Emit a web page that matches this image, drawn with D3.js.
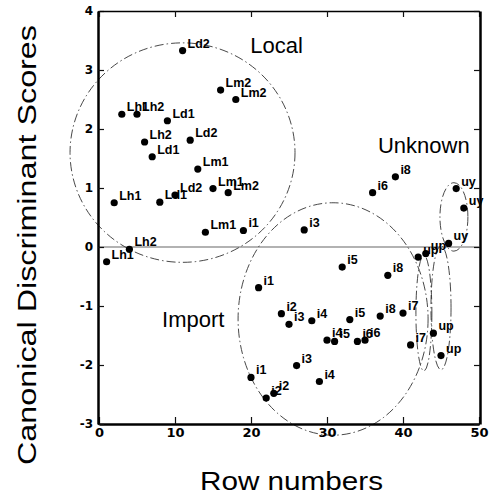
<!DOCTYPE html>
<html>
<head>
<meta charset="utf-8">
<script src="https://cdn.jsdelivr.net/npm/d3@7"></script>
<style>
  html, body { margin: 0; padding: 0; background: #fff; }
  svg { display: block; }
</style>
</head>
<body>
<svg id="chart" width="492" height="498"></svg>
<script>
// ---- data ----
const rowNumbers = [1,2,3,4,5,6,7,8,9,10,11,12,13,14,15,16,17,18,19,20,21,22,23,24,
  25,26,27,28,29,30,31,32,33,34,35,36,37,38,39,40,41,42,43,44,45,46,47,48];
const pointLabels = ["Lh1","Lh1","Lh1","Lh2","Lh2","Lh2","Ld1","Ld1","Ld1","Ld2","Ld2","Ld2",
  "Lm1","Lm1","Lm1","Lm2","Lm2","Lm2","i1","i1","i1","i2","i2","i2","i3","i3","i3",
  "i4","i4","i4","i5","i5","i5","i6","i6","i6","i8","i8","i8","i7","i7",
  "up","up","up","up","uy","uy","uy"];
const scores = [-0.25, 0.75, 2.25, -0.04, 2.25, 1.78, 1.53, 0.76, 2.14, 0.88, 3.33, 1.81,
  1.32, 0.25, 0.99, 2.66, 0.92, 2.50, 0.28, -2.21, -0.69, -2.56, -2.48, -1.13, -1.31, -2.01, 0.29,
  -1.25, -2.28, -1.58, -1.60, -0.34, -1.23, -1.60, -1.58, 0.92, -1.17, -0.48, 1.19, -1.12, -1.66,
  -0.17, -0.11, -1.46, -1.84, 0.06, 0.99, 0.66];

const xTicks = [0, 10, 20, 30, 40, 50];
const yTicks = [-3, -2, -1, 0, 1, 2, 3, 4];

// group ellipses (data units)
const groupNames = ["Local", "Import", "Unknown-uy", "Unknown-up1", "Unknown-up2"];
const ellipseCx = [10.99, 30.8, 46.7, 42.75, 45.0];
const ellipseCy = [1.60, -1.22, 0.51, -1.12, -1.03];
const ellipseRx = [14.8, 12.5, 1.84, 1.05, 1.32];
const ellipseRy = [1.86, 1.97, 0.58, 0.98, 1.05];

const regionNames = ["Local", "Unknown", "Import"];
const regionX = [19.9, 36.7, 8.3];
const regionY = [3.29, 1.59, -1.36];

// ---- drawing ----
const svg = d3.select("#chart");
const x = d3.scaleLinear().domain([0, 50]).range([99, 479]);
const y = d3.scaleLinear().domain([-3, 4]).range([424, 11]);

// zero line
svg.append("line")
  .attr("x1", x(0)).attr("x2", x(50))
  .attr("y1", y(0)).attr("y2", y(0))
  .attr("stroke", "#666").attr("stroke-width", 1.2);

// ellipses
svg.append("g").selectAll("ellipse")
  .data(groupNames)
  .join("ellipse")
  .attr("cx", (d, i) => x(ellipseCx[i]))
  .attr("cy", (d, i) => y(ellipseCy[i]))
  .attr("rx", (d, i) => x(ellipseCx[i] + ellipseRx[i]) - x(ellipseCx[i]))
  .attr("ry", (d, i) => y(ellipseCy[i] - ellipseRy[i]) - y(ellipseCy[i]))
  .attr("fill", "none")
  .attr("stroke", "#333")
  .attr("stroke-width", 0.9)
  .attr("stroke-dasharray", "9,3,1.5,3");

// axes
const fontTick = "'DejaVu Sans', sans-serif";
const gx = svg.append("g").attr("transform", `translate(0,${y(-3)})`)
  .call(d3.axisBottom(x).tickValues(xTicks).tickSizeInner(-7).tickSizeOuter(0).tickPadding(4));
const gy = svg.append("g").attr("transform", `translate(${x(0) - 1},0)`)
  .call(d3.axisLeft(y).tickValues(yTicks).tickSizeInner(-6).tickSizeOuter(0).tickPadding(5).tickFormat(d3.format("d")));
const gt = svg.append("g").attr("transform", `translate(0,${y(4)})`)
  .call(d3.axisTop(x).tickValues(xTicks).tickSizeInner(-6).tickSizeOuter(0).tickFormat(""));
const gr = svg.append("g").attr("transform", `translate(${x(50) + 1},0)`)
  .call(d3.axisRight(y).tickValues(yTicks).tickSizeInner(-6).tickSizeOuter(0).tickFormat(""));

[gx, gy, gt, gr].forEach(g => {
  g.selectAll("line").attr("stroke", "#111").attr("stroke-width", 1.2);
  g.selectAll("text").attr("fill", "#000").style("font-family", fontTick).style("font-weight", "bold");
});
gx.selectAll("text").style("font-size", "13px");
gy.selectAll("text").style("font-size", "12px").text(d => d < 0 ? "-" + Math.abs(d) : d);
gx.select(".domain").attr("stroke", "#000").attr("stroke-width", 2.5);
gy.select(".domain").attr("stroke", "#000").attr("stroke-width", 2.5);
gr.select(".domain").attr("stroke", "#000").attr("stroke-width", 2.5);
gt.select(".domain").attr("stroke", "#000").attr("stroke-width", 1.6);

// points
svg.append("g").selectAll("circle")
  .data(rowNumbers)
  .join("circle")
  .attr("cx", d => x(d))
  .attr("cy", (d, i) => y(scores[i]))
  .attr("r", 3.6)
  .attr("fill", "#000");

// point labels
svg.append("g").selectAll("text")
  .data(rowNumbers)
  .join("text")
  .attr("x", d => x(d) + 5)
  .attr("y", (d, i) => y(scores[i]) - 3)
  .attr("fill", "#000")
  .style("font-family", "'Liberation Sans', Arial, sans-serif")
  .style("font-weight", "bold")
  .style("font-size", "12.5px")
  .text((d, i) => pointLabels[i]);

// region labels
svg.append("g").selectAll("text")
  .data(regionNames)
  .join("text")
  .attr("x", (d, i) => x(regionX[i]))
  .attr("y", (d, i) => y(regionY[i]))
  .attr("fill", "#000")
  .style("font-family", "'Liberation Sans', Arial, sans-serif")
  .style("font-size", "22px")
  .text(d => d);

// axis titles
svg.append("text")
  .attr("x", 200).attr("y", 490)
  .attr("textLength", 183).attr("lengthAdjust", "spacingAndGlyphs")
  .style("font-family", "'Liberation Sans', Arial, sans-serif")
  .style("font-size", "25px")
  .attr("fill", "#000")
  .text("Row numbers");

svg.append("text")
  .attr("transform", "translate(36,465) rotate(-90)")
  .attr("x", 0).attr("y", 0)
  .attr("textLength", 440).attr("lengthAdjust", "spacingAndGlyphs")
  .style("font-family", "'Liberation Sans', Arial, sans-serif")
  .style("font-size", "26px")
  .attr("fill", "#000")
  .text("Canonical Discriminant Scores");
</script>
</body>
</html>
